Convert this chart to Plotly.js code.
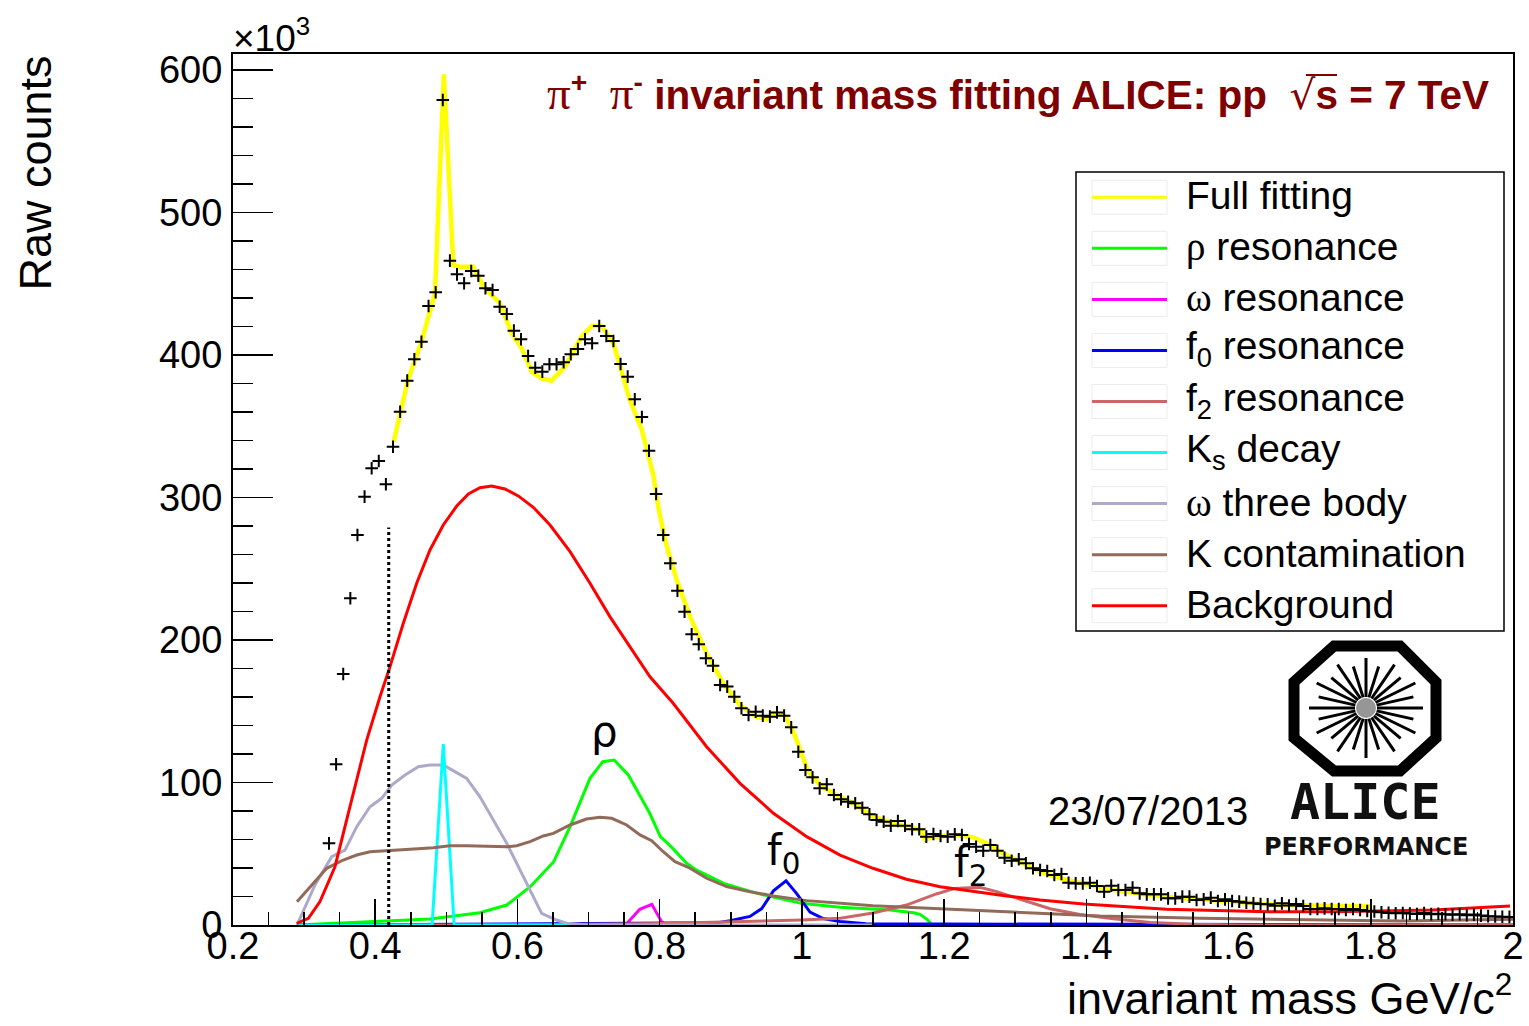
<!DOCTYPE html>
<html>
<head>
<meta charset="utf-8">
<script src="https://cdn.plot.ly/plotly-3.0.1.min.js"></script>
<style>
  html, body { margin: 0; padding: 0; background: #ffffff; }
  #chart { width: 1529px; height: 1026px; }
</style>
</head>
<body>
<div id="chart"></div>
<script>
// ---- measured pi+ pi- invariant mass spectrum (bin centres in GeV/c^2, counts in units of 10^3) ----
const massBins = [
  0.335,0.345,0.355,0.365,0.375,0.385,0.395,0.405,0.415,0.425,0.435,0.445,0.455,0.465,0.475,0.485,0.495,0.505,0.515,0.525,
  0.535,0.545,0.555,0.565,0.575,0.585,0.595,0.605,0.615,0.625,0.635,0.645,0.655,0.665,0.675,0.685,0.695,0.705,0.715,0.725,
  0.735,0.745,0.755,0.765,0.775,0.785,0.795,0.805,0.815,0.825,0.835,0.845,0.855,0.865,0.875,0.885,0.895,0.905,0.915,0.925,
  0.935,0.945,0.955,0.965,0.975,0.985,0.995,1.005,1.015,1.025,1.035,1.045,1.055,1.065,1.075,1.085,1.095,1.105,1.115,1.125,
  1.135,1.145,1.155,1.165,1.175,1.185,1.195,1.205,1.215,1.225,1.235,1.245,1.255,1.265,1.275,1.285,1.295,1.305,1.315,1.325,
  1.335,1.345,1.355,1.365,1.375,1.385,1.395,1.405,1.415,1.425,1.435,1.445,1.455,1.465,1.475,1.485,1.495,1.505,1.515,1.525,
  1.535,1.545,1.555,1.565,1.575,1.585,1.595,1.605,1.615,1.625,1.635,1.645,1.655,1.665,1.675,1.685,1.695,1.705,1.715,1.725,
  1.735,1.745,1.755,1.765,1.775,1.785,1.795,1.805,1.815,1.825,1.835,1.845,1.855,1.865,1.875,1.885,1.895,1.905,1.915,1.925,
  1.935,1.945,1.955,1.965,1.975,1.985,1.995
];
const rawCounts = [
  57.3,112.8,176.1,229.3,273.7,300.6,320.5,325.6,309.3,335.6,360.2,382.0,397.0,409.3,434.4,444.0,578.9,466.2,456.6,450.3,
  458.9,455.6,446.8,445.6,433.9,428.8,417.1,411.0,399.3,391.1,388.3,393.5,393.5,394.9,400.5,404.2,411.0,408.2,420.4,413.3,
  409.8,393.7,384.8,368.9,356.5,332.8,302.5,273.7,253.8,234.6,219.9,204.0,197.0,187.2,182.0,168.4,167.3,160.2,152.1,147.4,
  149.7,146.9,146.2,149.2,146.9,138.7,121.6,108.8,103.6,95.9,98.7,91.2,88.2,86.5,85.4,82.3,77.7,73.7,72.5,69.7,
  73.0,69.7,67.2,67.2,62.0,63.9,62.5,62.0,63.6,63.2,56.8,54.9,52.1,56.1,52.1,47.2,45.1,46.1,43.3,39.8,
  38.6,37.9,35.1,35.8,29.7,29.2,29.2,29.7,27.4,23.4,27.6,24.6,24.6,26.2,22.2,21.5,21.5,21.5,18.7,18.7,
  19.9,19.9,17.5,18.0,19.2,16.8,18.0,16.8,16.4,15.6,15.2,14.7,14.5,13.5,15.2,13.6,14.7,13.3,11.2,11.2,
  11.7,11.2,11.2,10.5,11.2,10.5,9.8,9.5,9.0,8.5,8.2,8.4,8.0,7.7,8.4,7.6,7.9,7.5,7.2,7.6,
  6.8,7.3,6.6,6.2,6.0,5.8,5.7
];

// ---- fit components (mass in GeV/c^2, counts in 10^3) ----
const fullX = [0.426,0.435,0.446,0.465,0.479,0.484,0.4965,0.5098,0.519,0.538,0.552,0.5755,0.592,0.606,0.620,0.634,0.648,0.667,0.690,0.7045,
               0.7185,0.735,0.758,0.775,0.791,0.798,0.8075,0.824,0.8427,0.866,0.8895,0.913,0.9365,0.9507,0.962,0.976,0.988,0.997,1.009,1.0255,
               1.044,1.0723,1.1005,1.1286,1.1615,1.168,1.173,1.185,1.2177,1.241,1.260,1.283,1.307,1.335,1.372,1.438,1.508,1.579,1.672,1.800];
const fullY = [339.2,359.0,382.5,409.3,432.7,443.3,597.0,463.0,462.0,462.0,448.0,436.3,415.2,404.7,388.3,383.6,382.0,391.8,412.8,420.4,
               420.4,408.2,368.4,347.4,316.0,293.5,270.2,242.1,216.4,190.7,169.6,154.4,145.8,144.6,148.6,146.9,135.7,122.8,107.6,98.2,
               92.4,85.4,76.0,71.4,67.9,66.5,60.1,62.0,63.2,61.5,57.3,50.3,44.4,37.4,31.6,24.6,19.9,17.1,14.0,12.9];

const rhoX = [0.290,0.407,0.477,0.547,0.585,0.618,0.651,0.674,0.702,0.720,0.736,0.756,0.772,0.786,0.801,0.815,0.838,0.852,0.890,0.937,
              0.999,1.054,1.124,1.157,1.166,1.176,1.183];
const rhoY = [0.0,2.3,4.2,8.6,14.0,26.9,44.4,69.0,102.9,114.6,115.8,105.3,91.2,78.4,62.0,55.5,43.3,38.5,29.2,22.2,
              15.2,12.4,10.5,8.6,7.5,4.0,0.0];

const omegaX = [0.290,0.752,0.772,0.789,0.803,0.810,0.850];
const omegaY = [0.0,0.0,11.0,14.5,2.0,0.0,0.0];

const f0X = [0.290,0.880,0.899,0.927,0.9435,0.960,0.9777,0.9927,1.0114,1.030,1.0536,1.090,2.000];
const f0Y = [0.0,1.5,3.0,6.0,11.5,24.0,31.0,22.0,9.0,4.5,2.5,0.8,0.0];

const f2X = [0.290,0.600,0.800,0.900,1.000,1.054,1.100,1.147,1.189,1.215,1.250,1.274,1.307,1.349,1.391,1.438,1.490,1.550,1.620,2.000];
const f2Y = [0.0,0.0,1.0,2.0,3.5,4.7,8.4,14.0,21.8,25.7,26.4,23.4,18.0,11.4,7.4,4.4,1.8,0.6,0.0,0.0];

const ksX = [0.290,0.480,0.4957,0.511,0.670];
const ksY = [0.0,0.0,127.0,0.0,0.0];

const omega3X = [0.290,0.3153,0.3388,0.3575,0.374,0.3927,0.409,0.4232,0.442,0.4606,0.477,0.4957,0.512,0.5286,0.5473,0.566,0.585,0.599,0.6177,0.634,
                 0.655,0.669,0.700,1.100];
const omega3Y = [0.0,28.1,47.9,52.6,69.0,83.0,88.9,98.2,105.3,111.1,112.3,112.3,107.6,102.9,90.0,73.7,57.3,43.3,24.6,8.2,
                 3.5,1.2,0.0,0.0];

const kContX = [0.290,0.313,0.3318,0.355,0.374,0.3927,0.4208,0.449,0.4817,0.505,0.5286,0.5568,0.585,0.599,0.6177,0.6364,0.6505,0.674,0.697,0.716,
                0.7326,0.7536,0.7724,0.7888,0.805,0.8216,0.8403,0.866,0.894,0.927,0.960,1.0068,1.0536,1.100,1.147,1.194,1.241,1.288,1.335,1.419,
                1.560,1.700,1.841,2.000];
const kContY = [16.4,29.2,39.8,45.6,49.1,51.4,52.1,53.1,54.2,55.6,55.6,55.2,54.9,55.6,58.5,62.5,64.3,70.2,74.4,75.6,
                74.9,70.2,63.2,59.2,51.4,44.4,40.5,32.8,26.9,23.4,20.4,17.1,15.2,13.5,12.4,11.4,10.5,9.3,8.6,6.3,
                4.7,3.5,2.8,4.0];

const bkgX = [0.2896,0.306,0.3223,0.3434,0.3645,0.388,0.4067,0.4208,0.4395,0.4583,0.477,0.4957,0.5146,0.531,0.5473,0.5638,0.5825,0.6012,0.6223,0.6458,
              0.674,0.702,0.730,0.758,0.7864,0.819,0.866,0.913,0.960,1.0068,1.0536,1.100,1.147,1.1943,1.241,1.288,1.335,1.396,1.513,1.654,
              1.748,1.819,1.8876,1.9958];
const bkgY = [1.2,4.7,16.4,40.9,83.0,129.8,160.2,181.3,211.7,239.8,263.2,280.7,294.0,302.5,306.9,308.1,306.0,301.1,293.1,280.7,
              262.0,239.8,216.4,195.3,174.2,155.6,125.1,99.4,78.4,62.0,49.1,39.8,32.1,26.9,23.4,20.4,17.5,14.7,11.0,9.3,
              9.3,10.0,10.5,13.3];

// lower edge of the fit range, drawn as a dotted marker
const fitRangeLow = 0.419;
const fitMarkerTop = 279;

// axis ticks
const xTickVals = [0.2,0.4,0.6,0.8,1.0,1.2,1.4,1.6,1.8,2.0];
const xTickText = ["0.2","0.4","0.6","0.8","1","1.2","1.4","1.6","1.8","2"];
const yTickVals = [0,100,200,300,400,500,600];
const yTickText = ["0","100","200","300","400","500","600"];

// legend entries (in display order)
const legendLabels = [
  "Full fitting",
  "<span style=\"font-family:Liberation Serif\">ρ</span> resonance",
  "<span style=\"font-family:Liberation Serif\">ω</span> resonance",
  "f<sub>0</sub> resonance",
  "f<sub>2</sub> resonance",
  "K<sub>s</sub> decay",
  "<span style=\"font-family:Liberation Serif\">ω</span> three body",
  "K contamination",
  "Background"
];

// ---- page geometry ----
const W = 1529, H = 1026;
const PL = 233, PR = 1513, PT = 54, PB = 925;
const px = v => (v - PL) / (PR - PL);
const py = v => (PB - v) / (PB - PT);
const SANS = "Liberation Sans, Arial, Helvetica, sans-serif";

const components = [
  { key: "full",   x: fullX,   y: fullY,   color: "#ffff00",            width: 4.5 },
  { key: "rho",    x: rhoX,    y: rhoY,    color: "#00ff00",            width: 3 },
  { key: "omega",  x: omegaX,  y: omegaY,  color: "#ff00ff",            width: 3 },
  { key: "f0",     x: f0X,     y: f0Y,     color: "#0000ff",            width: 3 },
  { key: "f2",     x: f2X,     y: f2Y,     color: "rgb(204,102,102)",   width: 3 },
  { key: "ks",     x: ksX,     y: ksY,     color: "#00ffff",            width: 3 },
  { key: "omega3", x: omega3X, y: omega3Y, color: "rgb(172,170,200)",   width: 3 },
  { key: "kcont",  x: kContX,  y: kContY,  color: "rgb(145,106,90)",    width: 3 },
  { key: "bkg",    x: bkgX,    y: bkgY,    color: "#ff0000",            width: 3 }
];
components.forEach((c, i) => { c.name = legendLabels[i]; });

// stacking order of the curves on the canvas
const drawOrder = ["full", "rho", "omega", "f0", "f2", "omega3", "ks", "kcont", "bkg"];

const traces = drawOrder.map(k => {
  const c = components.find(o => o.key === k);
  return {
    type: "scatter", mode: "lines", x: c.x, y: c.y, name: c.name,
    line: { color: c.color, width: c.width, shape: "linear" },
    hoverinfo: "skip", showlegend: false
  };
});

traces.push({
  type: "scatter", mode: "markers", x: massBins, y: rawCounts, name: "data",
  marker: { symbol: "cross-thin", size: 9, color: "#000000", line: { color: "#000000", width: 2 } },
  hoverinfo: "skip", showlegend: false
});

// ---- shapes ----
const shapes = [];

// fit range marker
shapes.push({ type: "line", xref: "x", yref: "y", x0: fitRangeLow, x1: fitRangeLow, y0: 0, y1: fitMarkerTop,
              line: { color: "#000000", width: 3, dash: "dot" } });

// legend frame
const LG = { x0: 1076, y0: 172, x1: 1504, y1: 631, rowTop: 197.3, rowStep: 51.05, sx0: 1092, sx1: 1167, tx: 1184 };
shapes.push({ type: "rect", xref: "paper", yref: "paper", x0: px(LG.x0), x1: px(LG.x1), y0: py(LG.y1), y1: py(LG.y0),
              line: { color: "#000000", width: 1.5 }, fillcolor: "#ffffff", layer: "above" });

const annotations = [];
components.forEach((c, i) => {
  const yy = LG.rowTop + i * LG.rowStep;
  shapes.push({ type: "rect", xref: "paper", yref: "paper", x0: px(LG.sx0), x1: px(LG.sx1), y0: py(yy + 17), y1: py(yy - 17),
                line: { color: "rgb(236,236,236)", width: 1 }, layer: "above" });
  shapes.push({ type: "line", xref: "paper", yref: "paper", x0: px(LG.sx0), x1: px(LG.sx1), y0: py(yy), y1: py(yy),
                line: { color: c.color, width: 3 }, layer: "above" });
  annotations.push({ xref: "paper", yref: "paper", x: px(LG.tx), y: py(yy - 1.5), xanchor: "left", yanchor: "middle",
                     text: c.name, showarrow: false, font: { family: SANS, size: 39, color: "#000000" } });
});

// ALICE logo: octagon frame, spokes and centre
const octX = [1334, 1400, 1436, 1436, 1400, 1334, 1294, 1294];
const octY = [646, 646, 682, 738, 771, 771, 738, 682];
let octPath = "";
octX.forEach((v, i) => { octPath += (i === 0 ? "M" : "L") + px(v).toFixed(5) + "," + py(octY[i]).toFixed(5) + " "; });
octPath += "Z";
shapes.push({ type: "path", xref: "paper", yref: "paper", path: octPath, line: { color: "#000000", width: 11 },
              fillcolor: "#ffffff", layer: "above" });
const logoCx = 1366, logoCy = 708;
for (let k = 0; k < 24; k++) {
  const a = k * Math.PI / 12;
  const f = (k % 2 === 0) ? 1.0 : 0.86;
  const r0 = 11, rx = 57 * f, ry = 50 * f;
  shapes.push({ type: "line", xref: "paper", yref: "paper",
                x0: px(logoCx + r0 * Math.cos(a)), y0: py(logoCy - r0 * Math.sin(a)),
                x1: px(logoCx + rx * Math.cos(a)), y1: py(logoCy - ry * Math.sin(a)),
                line: { color: "#000000", width: 3 }, layer: "above" });
}
shapes.push({ type: "circle", xref: "paper", yref: "paper", x0: px(logoCx - 10), x1: px(logoCx + 10),
              y0: py(logoCy + 10), y1: py(logoCy - 10), fillcolor: "rgb(150,150,150)", line: { width: 0 }, layer: "above" });

// overline of the square root in the title
shapes.push({ type: "line", xref: "paper", yref: "paper", x0: px(1306), x1: px(1337), y0: py(75), y1: py(75),
              line: { color: "rgb(128,0,0)", width: 2 }, layer: "above" });

// ---- text ----
const PI_SPAN = "<span style=\"font-family:Liberation Serif;font-size:47px\">π</span>";
annotations.push({
  xref: "paper", yref: "paper", x: px(1491), y: py(92), xanchor: "right", yanchor: "middle", showarrow: false,
  text: PI_SPAN + "<sup><b>+</b></sup>\u00a0 " + PI_SPAN + "<sup><b>-</b></sup> <b>invariant mass fitting ALICE: pp\u00a0\u00a0</b><span style=\"font-family:DejaVu Sans\">√</span><b>s = 7 TeV</b>",
  font: { family: SANS, size: 40.5, color: "rgb(128,0,0)" }
});
annotations.push({ xref: "paper", yref: "paper", x: px(231), y: py(35), xanchor: "left", yanchor: "middle", showarrow: false,
                   text: "×10<sup>3</sup>", font: { family: SANS, size: 37, color: "#000000" } });
annotations.push({ xref: "paper", yref: "paper", x: px(35), y: py(54), xanchor: "center", yanchor: "top", showarrow: false,
                   textangle: -90, text: "Raw counts", font: { family: SANS, size: 45, color: "#000000" } });
annotations.push({ xref: "paper", yref: "paper", x: px(1514), y: py(1026), xanchor: "right", yanchor: "bottom", showarrow: false,
                   text: "invariant mass GeV/c<sup>2</sup>", font: { family: SANS, size: 45, color: "#000000" } });
annotations.push({ xref: "paper", yref: "paper", x: px(1148), y: py(811), xanchor: "center", yanchor: "middle", showarrow: false,
                   text: "23/07/2013", font: { family: SANS, size: 40, color: "#000000" } });
annotations.push({ xref: "paper", yref: "paper", x: px(1365), y: py(802), xanchor: "center", yanchor: "middle", showarrow: false,
                   text: "<b>ALICE</b>", font: { family: "DejaVu Sans Mono, monospace", size: 50, color: "#111111" } });
annotations.push({ xref: "paper", yref: "paper", x: px(1366), y: py(847), xanchor: "center", yanchor: "middle", showarrow: false,
                   text: "<b>PERFORMANCE</b>", font: { family: "DejaVu Sans, sans-serif", size: 24, color: "#111111" } });

// resonance labels next to their peaks
annotations.push({ xref: "x", yref: "y", x: 0.7225, y: 136, xanchor: "center", yanchor: "middle", showarrow: false,
                   text: "ρ", font: { family: "DejaVu Sans, sans-serif", size: 42, color: "#000000" } });
annotations.push({ xref: "x", yref: "y", x: 0.975, y: 50, xanchor: "center", yanchor: "middle", showarrow: false,
                   text: "f<sub>0</sub>", font: { family: "DejaVu Sans, sans-serif", size: 42, color: "#000000" } });
annotations.push({ xref: "x", yref: "y", x: 1.238, y: 42, xanchor: "center", yanchor: "middle", showarrow: false,
                   text: "f<sub>2</sub>", font: { family: "DejaVu Sans, sans-serif", size: 42, color: "#000000" } });

const axisCommon = {
  showline: true, linecolor: "#000000", linewidth: 2, mirror: true,
  ticks: "inside", tickcolor: "#000000", tickwidth: 1.5,
  showgrid: false, zeroline: false, tickmode: "array",
  tickfont: { family: SANS, size: 38, color: "#000000" }
};

const layout = {
  width: W, height: H,
  margin: { l: PL, r: W - PR, t: PT, b: H - PB, pad: 0 },
  paper_bgcolor: "#ffffff", plot_bgcolor: "#ffffff",
  showlegend: false,
  font: { family: SANS, color: "#000000" },
  xaxis: Object.assign({}, axisCommon, {
    range: [0.2, 2.0], tickvals: xTickVals, ticktext: xTickText, ticklen: 26, ticklabelstandoff: -14,
    minor: { ticks: "inside", dtick: 0.05, tick0: 0.2, ticklen: 13, tickwidth: 1.5, tickcolor: "#000000", showgrid: false }
  }),
  yaxis: Object.assign({}, axisCommon, {
    range: [0, (PB - PT) / 1.425], tickvals: yTickVals, ticktext: yTickText, ticklen: 40, ticklabelstandoff: 1,
    minor: { ticks: "inside", dtick: 20, tick0: 0, ticklen: 20, tickwidth: 1.5, tickcolor: "#000000", showgrid: false }
  }),
  shapes: shapes,
  annotations: annotations
};

Plotly.newPlot("chart", traces, layout, { displayModeBar: false, staticPlot: true });
</script>
</body>
</html>
